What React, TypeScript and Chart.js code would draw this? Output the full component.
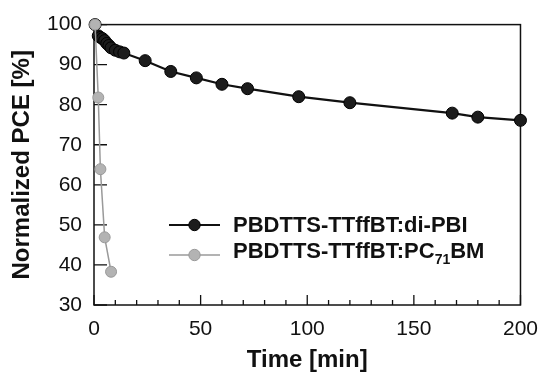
import React, { useEffect, useRef } from "react";
import { Chart, registerables } from "chart.js";

Chart.register(...registerables);

const diPbiTime = [0.5, 2, 3, 4, 5, 6, 7, 8, 10, 12, 14, 24, 36, 48, 60, 72, 96, 120, 168, 180, 200];
const diPbiPce = [100, 97.2, 96.8, 96.5, 96, 95.3, 94.8, 94.2, 93.6, 93.2, 92.9, 91.0, 88.3, 86.7, 85.1, 84.0, 82.0, 80.5, 77.9, 76.9, 76.1];
const pcbmTime = [0.5, 2, 3, 5, 8];
const pcbmPce = [100, 81.8, 63.9, 46.9, 38.3];

const xTicks = [0, 50, 100, 150, 200];
const yTicks = [30, 40, 50, 60, 70, 80, 90, 100];

const legendItems = [
  { main: "PBDTTS-TTffBT:di-PBI", sub: "", tail: "", line: "#111", fill: "#1c1c1c", border: "#000" },
  { main: "PBDTTS-TTffBT:PC", sub: "71", tail: "BM", line: "#9a9a9a", fill: "#b3b3b3", border: "#999" },
];

const FONT = "'Liberation Sans', Arial, sans-serif";

const frame = {
  id: "frame",
  beforeDatasetsDraw(chart: any) {
    const { ctx, chartArea: a, scales } = chart;
    ctx.save();
    ctx.strokeStyle = "#111";
    ctx.lineWidth = 1.5;
    ctx.strokeRect(a.left, a.top, a.right - a.left, a.bottom - a.top);
    ctx.lineWidth = 1.3;
    ctx.beginPath();
    for (const v of yTicks) {
      const y = scales.y.getPixelForValue(v);
      ctx.moveTo(a.left, y);
      ctx.lineTo(a.left + 13, y);
    }
    for (let v = 0; v <= 200; v += 10) {
      const x = scales.x.getPixelForValue(v);
      const len = v % 50 === 0 ? 10 : 5;
      ctx.moveTo(x, a.bottom);
      ctx.lineTo(x, a.bottom - len);
    }
    ctx.stroke();
    ctx.restore();
  },
};

const legendPlugin = {
  id: "customLegend",
  afterDraw(chart: any) {
    const { ctx } = chart;
    const x0 = 169;
    const x1 = 220;
    const tx = 233;
    const ys = [225, 255];
    const tys = [225.5, 252];
    ctx.save();
    legendItems.forEach((it, i) => {
      const y = ys[i];
      ctx.strokeStyle = it.line;
      ctx.lineWidth = i === 0 ? 2.2 : 1.5;
      ctx.beginPath();
      ctx.moveTo(x0, y);
      ctx.lineTo(x1, y);
      ctx.stroke();
      ctx.beginPath();
      ctx.arc((x0 + x1) / 2, y, 5.7, 0, Math.PI * 2);
      ctx.fillStyle = it.fill;
      ctx.fill();
      ctx.strokeStyle = it.border;
      ctx.lineWidth = 1;
      ctx.stroke();
      ctx.fillStyle = "#111";
      ctx.textBaseline = "middle";
      ctx.font = `bold 22px ${FONT}`;
      const ty = tys[i];
      ctx.fillText(it.main, tx, ty);
      let w = ctx.measureText(it.main).width;
      if (it.sub) {
        ctx.font = `bold 14px ${FONT}`;
        ctx.fillText(it.sub, tx + w, ty + 8);
        w += ctx.measureText(it.sub).width;
        ctx.font = `bold 22px ${FONT}`;
        ctx.fillText(it.tail, tx + w, ty);
      }
    });
    ctx.restore();
  },
};

export default function App() {
  const ref = useRef<HTMLCanvasElement | null>(null);
  useEffect(() => {
    document.body.style.margin = "0";
    const canvas = ref.current;
    if (!canvas) return;
    const chart = new Chart(canvas, {
      type: "line",
      data: {
        datasets: [
          {
            label: "PBDTTS-TTffBT:PC71BM",
            data: pcbmTime.map((t, i) => ({ x: t, y: pcbmPce[i] })),
            borderColor: "#9a9a9a",
            borderWidth: 1.5,
            backgroundColor: "#b3b3b3",
            pointBackgroundColor: "#b3b3b3",
            pointBorderColor: "#999",
            pointBorderWidth: 1,
            pointRadius: 5.5,
            clip: false as any,
          },
          {
            label: "PBDTTS-TTffBT:di-PBI",
            data: diPbiTime.map((t, i) => ({ x: t, y: diPbiPce[i] })),
            borderColor: "#111",
            borderWidth: 2.2,
            backgroundColor: "#1c1c1c",
            pointBackgroundColor: "#1c1c1c",
            pointBorderColor: "#000",
            pointBorderWidth: 1,
            pointRadius: 6,
            clip: false as any,
          },
        ],
      },
      options: {
        animation: false,
        responsive: false,
        layout: { padding: { left: 0, top: 19, right: 25, bottom: 0 } },
        plugins: { legend: { display: false }, tooltip: { enabled: false } },
        scales: {
          x: {
            type: "linear",
            min: 0,
            max: 200,
            afterFit(s: any) { s.height = 85; },
            afterBuildTicks(s: any) { s.ticks = xTicks.map((v) => ({ value: v })); },
            grid: { display: false, drawTicks: false },
            border: { display: false },
            ticks: { color: "#111", font: { size: 21, family: FONT }, padding: 12, maxRotation: 0 },
            title: { display: true, text: "Time [min]", color: "#111", font: { size: 24, weight: "bold", family: FONT }, padding: { top: 0, bottom: 15 } },
          },
          y: {
            type: "linear",
            min: 30,
            max: 100,
            afterFit(s: any) { s.width = 94; },
            afterBuildTicks(s: any) { s.ticks = yTicks.map((v) => ({ value: v })); },
            grid: { display: false, drawTicks: false },
            border: { display: false },
            ticks: { color: "#111", font: { size: 21, family: FONT }, padding: 12 },
            title: { display: true, text: "Normalized PCE [%]", color: "#111", font: { size: 24, weight: "bold", family: FONT }, padding: { top: 8, bottom: 0 } },
          },
        },
      },
      plugins: [frame, legendPlugin],
    });
    return () => chart.destroy();
  }, []);
  return (
    <div style={{ width: 550, height: 390 }}>
      <canvas ref={ref} width={550} height={390} />
    </div>
  );
}
